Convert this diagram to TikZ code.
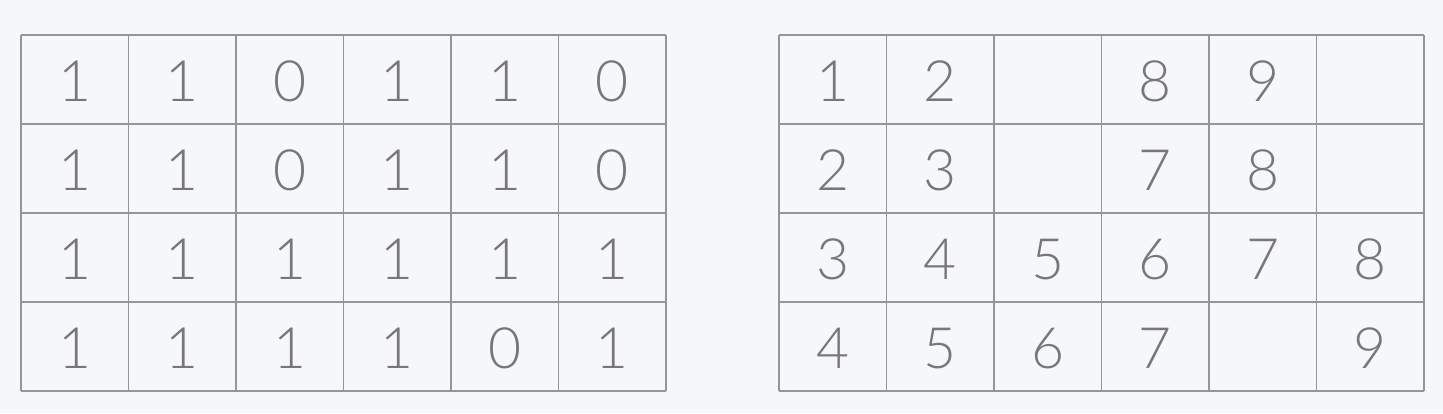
\documentclass[tikz,border=0pt]{standalone}
\usepackage{fontspec}
\setmainfont{Lato}[UprightFont=* Light]
\definecolor{bg}{HTML}{F6F7FB}
\definecolor{gridc}{HTML}{959595}
\definecolor{txt}{HTML}{777777}
\begin{document}
\begin{tikzpicture}[x=1pt,y=-1pt,
  gridline/.style={draw=gridc,line width=1.3pt},
  cell/.style={text=txt,font=\fontsize{57}{60}\selectfont,inner sep=0pt,anchor=center}]
\fill[bg] (0,0) rectangle (1443,413);
\useasboundingbox (0,0) rectangle (1443,413);
\foreach \ox in {21,779}{
  \foreach \i in {0,...,6}{
    \draw[gridline] ({\ox+107.5*\i},35) -- ({\ox+107.5*\i},391);
  }
  \foreach \j in {0,...,4}{
    \draw[gridline] (\ox,{35+89*\j}) -- ({\ox+645},{35+89*\j});
  }
}
\foreach \r/\row in {0/{1,1,0,1,1,0},1/{1,1,0,1,1,0},2/{1,1,1,1,1,1},3/{1,1,1,1,0,1}}{
  \foreach \v [count=\c from 0] in \row {
    \node[cell] (L\r\c) at ({21+107.5*(\c+0.5)},{35+89*(\r+0.5)+2}) {\v};
  }
}
\foreach \r/\row in {0/{1,2,{},8,9,{}},1/{2,3,{},7,8,{}},2/{3,4,5,6,7,8},3/{4,5,6,7,{},9}}{
  \foreach \v [count=\c from 0] in \row {
    \node[cell] (R\r\c) at ({779+107.5*(\c+0.5)},{35+89*(\r+0.5)+2}) {\v};
  }
}
\end{tikzpicture}
\end{document}
